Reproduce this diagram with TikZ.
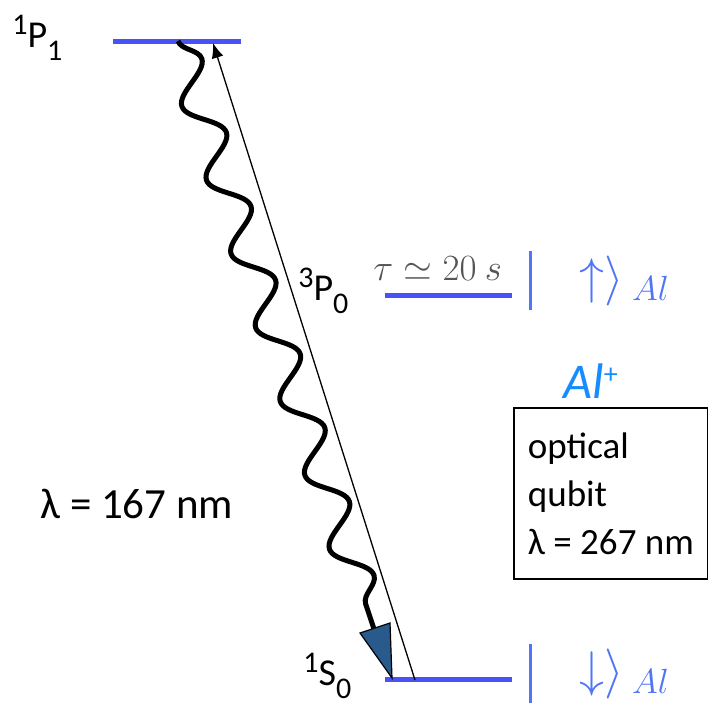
\RequirePackage{fix-cm}
\documentclass[tikz,border=0pt]{standalone}
\usepackage[no-math]{fontspec}
\setmainfont{Carlito}
\usetikzlibrary{decorations.pathmorphing, arrows.meta}

\definecolor{levelblue}{RGB}{72,82,245}
\definecolor{ketblue}{RGB}{80,118,245}
\definecolor{ionblue}{RGB}{22,140,255}
\definecolor{tipblue}{RGB}{40,90,140}
\definecolor{taugray}{RGB}{85,85,85}

\newcommand{\termsym}[3]{\raisebox{13pt}{\fontsize{30}{30}\selectfont #1}#2\raisebox{-13pt}{\fontsize{30}{30}\selectfont #3}}
\newcommand{\ketsym}[1]{$\left.\vphantom{\rule[-17pt]{0pt}{60pt}}\rule[-17pt]{3.5pt}{59pt}\mkern12mu #1\right\rangle{}_{Al}$}

\begin{document}
\begin{tikzpicture}[x=1pt, y=1pt, thick, >=Latex,
    level/.style={levelblue, line width=5pt},
    termlabel/.style={anchor=base west, inner sep=0pt, font=\fontsize{38}{38}\selectfont},
    ketlabel/.style={anchor=base west, inner sep=0pt, ketblue, font=\fontsize{50}{50}\selectfont}]
    \useasboundingbox (0,0) rectangle (708,-704);

    % levels
    \coordinate (P1left) at (113,-41);
    \coordinate (P1right) at (241,-41);
    \coordinate (P0left) at (385,-295);
    \coordinate (P0right) at (512,-295);
    \coordinate (S0left) at (385,-679);
    \coordinate (S0right) at (512,-679);
    \draw[level] (P1left) -- (P1right);
    \draw[level] (P0left) -- (P0right);
    \draw[level] (S0left) -- (S0right);

    \node (P1) [termlabel] at (12,-47) {\termsym{1}{P}{1}};
    \node (P0) [termlabel] at (298,-300) {\termsym{3}{P}{0}};
    \node (S0) [termlabel] at (303,-685) {\termsym{1}{S}{0}};

    \node (lifetime) [anchor=base west, inner sep=0pt, taugray, font=\fontsize{37}{37}\selectfont] at (373,-280) {$\tau \simeq 20\ s$};
    \node (up) [ketlabel] at (527,-293) {\ketsym{\uparrow}};
    \node (down) [ketlabel] at (527,-686) {\ketsym{\downarrow}};

    % decay and excitation
    \coordinate (decaytop) at (178,-41);
    \coordinate (decayend) at (375,-632);
    \draw[line width=5pt, decorate, decoration={snake, segment length=77.8pt, amplitude=17pt}] (decaytop) -- (decayend);
    \filldraw[fill=tipblue, draw=black, line width=1.2pt] (360,-633) -- (390,-623) -- (392,-678) -- cycle;

    \coordinate (pumpstart) at (415,-680);
    \coordinate (pumptop) at (213,-43);
    \draw[->, line width=1.3pt, -{Latex[length=15pt, width=12pt]}] (pumpstart) -- (pumptop);

    \node (wavelength) [anchor=base west, inner sep=0pt, font=\fontsize{43}{43}\selectfont] at (40,-518) {λ = 167 nm};

    % ion box
    \node (ion) [anchor=base west, inner sep=0pt, ionblue, font=\fontsize{50}{50}\selectfont\itshape] at (563,-398) {Al\raisebox{15pt}{\fontsize{28}{28}\selectfont\upshape +}};
    \node (qubit) [draw, line width=1.8pt, anchor=north west, minimum width=194pt, minimum height=171pt, inner sep=0pt, align=left, font=\fontsize{37}{48}\selectfont] at (513,-407) {optical\\qubit\\λ = 267 nm};
\end{tikzpicture}
\end{document}
